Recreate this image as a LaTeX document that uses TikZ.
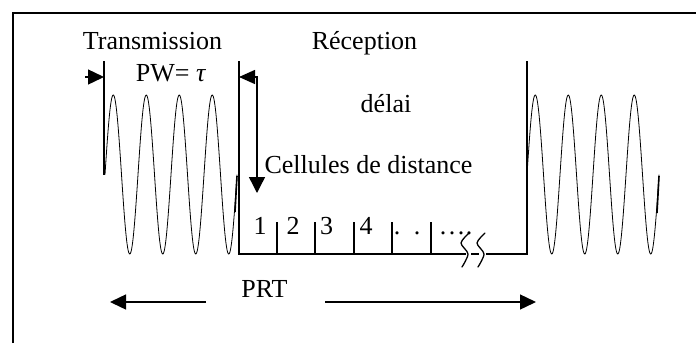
\documentclass[tikz,border=0pt]{standalone}
\usepackage{fontspec}
\setmainfont{Liberation Serif}
\usetikzlibrary{arrows.meta}
\usetikzlibrary{positioning}

\begin{document}
\begin{tikzpicture}[
  x=1pt,
  y=-1pt,
  every node/.style={font=\fontsize{26}{30}\selectfont, inner sep=0pt},
  frame/.style={line width=2.4pt},
  bar/.style={line width=1.6pt},
  wave/.style={line width=0.8pt},
  head/.style={-{Triangle[length=16pt,width=15pt]}, line width=1.4pt},
  twohead/.style={{Triangle[length=16pt,width=14pt]}-{Triangle[length=16pt,width=16pt]}, line width=1.4pt},
  cut/.style={line width=1.3pt, line cap=round}
]

\useasboundingbox (0,0) rectangle (696,343);

\def\per{33}   
\def\amp{79.5} 
\def\yc{174.5} 

% frame
\coordinate (F0) at (13,343);
\coordinate (F1) at (13,13);
\coordinate (F2) at (696,13);
\draw[frame] (F0) -- (F1) -- (F2);

% emitted pulse
\coordinate (T0) at (104,61);
\coordinate (T1) at (104,\yc);
\draw[bar] (T0) -- (T1);
\draw[wave] plot[domain=0:4*\per, samples=240] ({105+\x},{\yc-\amp*sin(\x/\per*360)});
\coordinate (E0) at (237,176);
\coordinate (E1) at (235,212);
\draw[bar] (E0) -- (E1);

\node[anchor=base] (trans) at (152.5,49) {Transmission};
\node[anchor=base] (pw) at (171,81) {PW= \textit{τ}};

\coordinate (A0) at (85,77);
\coordinate (A1) at (104,77);
\draw[head] (A0) -- (A1);

% reception window
\coordinate (R0) at (239,61);
\coordinate (R1) at (239,254);
\coordinate (B0) at (466,254);
\coordinate (B1) at (471,254);
\coordinate (B2) at (479,254);
\coordinate (B3) at (486,254);
\coordinate (R2) at (527,254);
\coordinate (R3) at (527,61);
\draw[bar] (R0) -- (R1) -- (B0);
\draw[bar] (B1) -- (B2);
\draw[bar] (B3) -- (R2) -- (R3);

\foreach \i/\xx in {1/277,2/315,3/354,4/392,5/431}{
  \coordinate (c\i) at (\xx,254);
  \draw[bar] (c\i) -- ++(0,-32);
}

\node[anchor=base] (n1) at (260,234) {1};
\node[anchor=base] (n2) at (293,234) {2};
\node[anchor=base] (n3) at (326.5,234) {3};
\node[anchor=base] (n4) at (366,234) {4};
\foreach \xx in {397,417,443,452,461,469}
  \node[anchor=base] at (\xx,234) {.};

% break
\draw[cut] plot[smooth] coordinates {(469,233) (461,243) (468,254) (462,267)};
\draw[cut] plot[smooth] coordinates {(485,233) (477,243) (484,254) (478,267)};

% delay
\coordinate (D0) at (239,77);
\coordinate (D1) at (257,77);
\coordinate (D2) at (257,193);
\draw[twohead] (D0) -- (D1) -- (D2);

\node[anchor=base] (recep) at (364.5,49) {Réception};
\node[anchor=base] (delai) at (386,112) {délai};
\node[anchor=base] (cells) at (368.5,173) {Cellules de distance};

% echo
\draw[wave] plot[domain=0:4*\per, samples=240] ({527+\x},{\yc-\amp*sin(\x/\per*360)});
\coordinate (E2) at (659,176);
\coordinate (E3) at (657,213);
\draw[bar] (E2) -- (E3);

% PRT
\node[anchor=base] (prt) at (264.5,297) {PRT};
\coordinate (P0) at (206,302);
\coordinate (P1) at (110,302);
\coordinate (P2) at (325,302);
\coordinate (P3) at (536,302);
\draw[head] (P0) -- (P1);
\draw[head] (P2) -- (P3);

\end{tikzpicture}
\end{document}
